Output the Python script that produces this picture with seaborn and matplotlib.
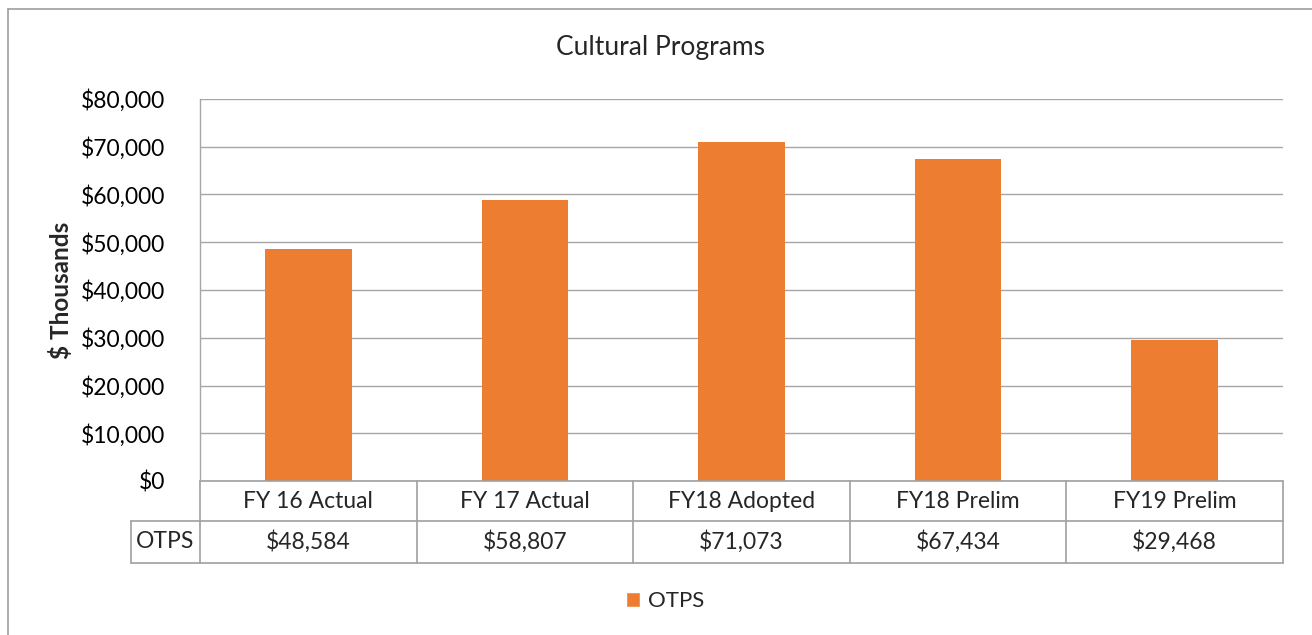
import matplotlib
matplotlib.use("Agg")
import matplotlib.pyplot as plt
import matplotlib.transforms as mtransforms
from matplotlib.patches import Patch
import seaborn as sns
import pandas as pd

categories = ["FY 16 Actual", "FY 17 Actual", "FY18 Adopted", "FY18 Prelim", "FY19 Prelim"]
otps = [48584, 58807, 71073, 67434, 29468]
series_name = "OTPS"
yticks = [0, 10000, 20000, 30000, 40000, 50000, 60000, 70000, 80000]

sns.set_style("white")
plt.rcParams["font.family"] = ["Lato", "DejaVu Sans"]

W, H = 1312, 635
fig = plt.figure(figsize=(W / 100, H / 100), dpi=100)
ax = fig.add_axes([200 / W, 1 - 481 / H, 1083 / W, 382 / H])

df = pd.DataFrame({"cat": categories, "val": otps})
orange = "#ED7D31"
grid_c = "#A6A6A6"
line_c = "#A0A0A0"
fs = 16.5

sns.barplot(data=df, x="cat", y="val", color=orange, width=0.4, ax=ax,
            saturation=1, edgecolor="none")

ax.set_xlim(-0.5, len(categories) - 0.5)
ax.set_ylim(0, 80000)
ax.set_yticks(yticks)
ax.set_yticklabels([f"${v:,.0f}" for v in yticks], fontsize=fs, color="#000000")
ax.tick_params(axis="y", length=8, width=1, color=grid_c, pad=17)
ax.set_xticks([])
ax.set_xlabel("")
ax.set_ylabel("$ Thousands", fontsize=17.5, fontweight="bold", labelpad=6)
ax.yaxis.grid(True, color=grid_c, linewidth=1)
ax.set_axisbelow(True)
for s in ["top", "right", "bottom"]:
    ax.spines[s].set_visible(False)
ax.spines["left"].set_color(grid_c)
ax.spines["left"].set_linewidth(1)

# data table below the axis
trans = mtransforms.blended_transform_factory(ax.transData, ax.transAxes)
ax_h = 382.0
r1 = -40 / ax_h
r2 = -82 / ax_h
n = len(categories)
label_left = -0.5 - 69 / (1083 / n)
kw = dict(color=line_c, lw=1.2, transform=trans, clip_on=False)
ax.plot([-0.5, n - 0.5], [0, 0], **kw)
ax.plot([label_left, n - 0.5], [r1, r1], **kw)
ax.plot([label_left, n - 0.5], [r2, r2], **kw)
for i in range(n + 1):
    ax.plot([i - 0.5, i - 0.5], [0, r2], **kw)
ax.plot([label_left, label_left], [r1, r2], **kw)
for i, (c, v) in enumerate(zip(categories, otps)):
    ax.text(i, r1 / 2, c, ha="center", va="center", fontsize=fs, transform=trans, clip_on=False)
    ax.text(i, (r1 + r2) / 2, f"${v:,.0f}", ha="center", va="center", fontsize=fs,
            transform=trans, clip_on=False)
ax.text((label_left - 0.5) / 2, (r1 + r2) / 2, series_name, ha="center", va="center",
        fontsize=fs, transform=trans, clip_on=False)

fig.text(660 / W, 1 - 48 / H, "Cultural Programs", ha="center", va="center", fontsize=19)

fig.legend(handles=[Patch(facecolor=orange, label=series_name)], loc="center",
           bbox_to_anchor=(665 / W, 1 - 601 / H), frameon=False, fontsize=16,
           handlelength=0.65, handleheight=0.65, handletextpad=0.35)

# outer chart border (top and left visible)
fig.add_artist(plt.Line2D([8 / W, 1], [1 - 9 / H, 1 - 9 / H], color="#9E9E9E", lw=1.2,
                          transform=fig.transFigure))
fig.add_artist(plt.Line2D([8 / W, 8 / W], [0, 1 - 9 / H], color="#9E9E9E", lw=1.2,
                          transform=fig.transFigure))

fig.savefig("out.png", dpi=100)
